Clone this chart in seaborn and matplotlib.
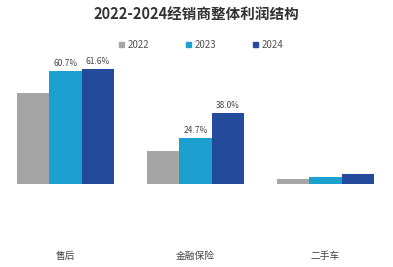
import matplotlib
matplotlib.use('Agg')
import matplotlib.pyplot as plt
from matplotlib.patches import Patch
import seaborn as sns
import pandas as pd

categories = ['售后', '金融保险', '二手车']
years = ['2022', '2023', '2024']
v2022 = [48.7, 17.7, 2.7]
v2023 = [60.7, 24.7, 3.9]
v2024 = [61.6, 38.0, 5.4]
labels_2023 = ['60.7%', '24.7%', '']
labels_2024 = ['61.6%', '38.0%', '']
colors = ['#a5a5a5', '#1ba0cf', '#244b9b']

sns.set_style('white')
plt.rcParams['font.family'] = ['Noto Sans CJK SC', 'DejaVu Sans']

df = {'cat': [], 'year': [], 'value': []}
for y, vals in zip(years, [v2022, v2023, v2024]):
    for c, v in zip(categories, vals):
        df['cat'].append(c)
        df['year'].append(y)
        df['value'].append(v)
df = pd.DataFrame(df)

fig = plt.figure(figsize=(3.93, 2.67), dpi=100)
ax = fig.add_axes([0, 83 / 267, 1, 144 / 267])
sns.barplot(data=df, x='cat', y='value', hue='year', order=categories,
            hue_order=years, palette=colors, width=0.75, gap=0,
            saturation=1, linewidth=0, legend=False, ax=ax)

ax.bar_label(ax.containers[1], labels=labels_2023, padding=2.5, fontsize=6, color='#444444')
ax.bar_label(ax.containers[2], labels=labels_2024, padding=2.5, fontsize=6, color='#444444')

ax.set_xlim(-65.5 / 130, (393 - 65.5) / 130)
ax.set_ylim(0, 144 / 1.862)
sns.despine(ax=ax, left=True, bottom=True)
ax.set_yticks([])
ax.set_xlabel('')
ax.set_ylabel('')
ax.tick_params(axis='x', length=0, pad=48, labelsize=7, labelcolor='#444444')

handles = [Patch(color=c) for c in colors]
fig.legend(handles, years, loc='center left', bbox_to_anchor=(114.5 / 393, 1 - 45 / 267),
           ncol=3, frameon=False, fontsize=7, handlelength=0.5, handleheight=0.5,
           handletextpad=0.35, columnspacing=3.8, borderpad=0, labelcolor='#555555')

fig.text(0.5, 1 - 14 / 267, '2022-2024经销商整体利润结构', ha='center', va='center',
         fontsize=10.5, fontweight='bold', color='#333333')

plt.savefig('out.png', dpi=100)
